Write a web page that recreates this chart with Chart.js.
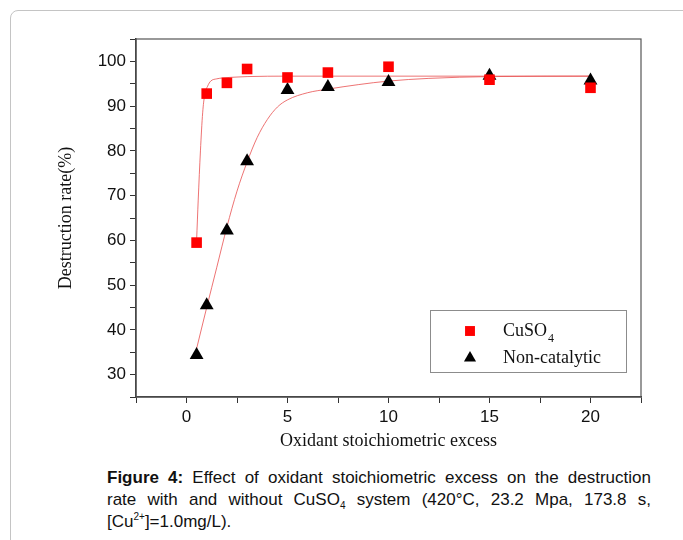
<!DOCTYPE html>
<html>
<head>
<meta charset="utf-8">
<script src="https://cdn.jsdelivr.net/npm/chart.js@4"></script>
<style>
  html, body { margin: 0; padding: 0; background: #fff; overflow: hidden; }
  body { width: 683px; height: 540px; position: relative; }
  .frame {
    position: absolute; left: 10px; top: 10px; width: 800px; height: 600px;
    border: 1px solid #c4c4c4; border-radius: 8px;
  }
  .plot { position: absolute; left: 0; top: 0; width: 683px; height: 460px; }
  .caption {
    position: absolute; left: 107px; top: 467px; width: 544px;
    font-family: 'Liberation Sans', Arial, sans-serif; font-size: 17px; line-height: 22px; color: #111;
  }
  .caption .j { text-align: justify; text-align-last: justify; }
  .caption sub, .caption sup { font-size: 10px; line-height: 0; }
  .caption sub { vertical-align: -4px; }
</style>
</head>
<body>
<div class="frame"></div>
<div class="plot"><canvas id="rateChart"></canvas></div>
<div class="caption">
  <div class="j"><b>Figure 4:</b> Effect of oxidant stoichiometric excess on the destruction</div>
  <div class="j">rate with and without CuSO<sub>4</sub> system (420°C, 23.2 Mpa, 173.8 s,</div>
  <div>[Cu<sup>2+</sup>]=1.0mg/L).</div>
</div>
<script>
// measured points
const excessValues = [0.5, 1, 2, 3, 5, 7, 10, 15, 20];
const cuso4Rate = [59.5, 92.8, 95.2, 98.3, 96.4, 97.5, 98.8, 95.9, 94.1];
const nonCatalyticRate = [34.4, 45.5, 62.2, 77.7, 93.6, 94.3, 95.4, 96.8, 95.7];

// fitted curves
const cuso4FitX = [0.5, 0.58, 0.69, 0.8, 0.9, 1.05, 1.2, 1.5, 1.8, 2.5, 3, 5, 10, 20];
const cuso4FitY = [60, 69, 80, 88.5, 92.5, 94.5, 95.6, 96.1, 96.3, 96.5, 96.6, 96.7, 96.7, 96.7];
const nonCatFitX = [0.5, 1, 1.5, 2, 2.5, 3, 3.5, 4, 4.5, 5, 6, 7, 8.5, 10, 12, 15, 20];
const nonCatFitY = [35.8, 45, 54, 63, 71, 77.5, 83, 87, 89.8, 91.4, 93, 93.8, 94.8, 95.6, 96.2, 96.6, 96.7];

const seriesNames = ['CuSO', 'Non-catalytic'];
const seriesSubscripts = ['4', ''];
const xTickLabels = [0, 5, 10, 15, 20];
const yTickLabels = [30, 40, 50, 60, 70, 80, 90, 100];

const toPoints = (xs, ys) => xs.map((x, i) => ({ x: x, y: ys[i] }));

const serif = "'Liberation Serif', 'Times New Roman', serif";
const sans = "'Liberation Sans', Arial, sans-serif";
const fitColor = 'rgba(232, 80, 80, 0.8)';

// box around the plot + the legend in the lower right
const framePlugin = {
    id: 'framePlugin',
    afterDatasetsDraw(chart) {
        const { ctx, chartArea: a } = chart;
        ctx.save();
        ctx.strokeStyle = '#555';
        ctx.lineWidth = 1.2;
        ctx.strokeRect(a.left, a.top, a.right - a.left, a.bottom - a.top);

        const bx = a.right - 211, by = a.bottom - 87, bw = 196, bh = 62;
        ctx.fillStyle = '#fff';
        ctx.fillRect(bx, by, bw, bh);
        ctx.strokeStyle = '#8c8c8c';
        ctx.lineWidth = 1;
        ctx.strokeRect(bx + 0.5, by + 0.5, bw, bh);

        const styles = ['rect', 'triangle'];
        const colors = ['#ff0000', '#000000'];
        seriesNames.forEach((name, i) => {
            const cy = by + 21 + i * 27;
            const opts = { pointStyle: styles[i], radius: 7, rotation: 0, borderWidth: 0 };
            ctx.fillStyle = colors[i];
            ctx.strokeStyle = colors[i];
            Chart.helpers.drawPoint(ctx, opts, bx + 40, cy);
            ctx.fillStyle = '#111';
            ctx.font = '18px ' + serif;
            ctx.textBaseline = 'middle';
            ctx.textAlign = 'left';
            ctx.fillText(name, bx + 73, cy);
            if (seriesSubscripts[i]) {
                const w = ctx.measureText(name).width;
                ctx.font = '12px ' + serif;
                ctx.fillText(seriesSubscripts[i], bx + 73 + w + 1, cy + 8);
            }
        });
        ctx.restore();
    }
};

const ctx = document.getElementById('rateChart').getContext('2d');
new Chart(ctx, {
    type: 'scatter',
    data: {
        datasets: [
            {
                label: 'CuSO4',
                data: toPoints(excessValues, cuso4Rate),
                pointStyle: 'rect',
                pointRadius: 7.5,
                backgroundColor: '#ff0000',
                borderColor: '#ff0000',
                borderWidth: 0
            },
            {
                label: 'Non-catalytic',
                data: toPoints(excessValues, nonCatalyticRate),
                pointStyle: 'triangle',
                pointRadius: 8,
                backgroundColor: '#000',
                borderColor: '#000',
                borderWidth: 0
            },
            {
                label: 'CuSO4 fit',
                data: toPoints(cuso4FitX, cuso4FitY),
                showLine: true,
                pointRadius: 0,
                borderColor: fitColor,
                borderWidth: 1,
                cubicInterpolationMode: 'monotone'
            },
            {
                label: 'Non-catalytic fit',
                data: toPoints(nonCatFitX, nonCatFitY),
                showLine: true,
                pointRadius: 0,
                borderColor: fitColor,
                borderWidth: 1,
                cubicInterpolationMode: 'monotone'
            }
        ]
    },
    options: {
        responsive: true,
        maintainAspectRatio: false,
        animation: false,
        layout: { padding: { left: 0, top: 39, right: 42, bottom: 0 } },
        plugins: {
            legend: { display: false },
            tooltip: { enabled: false }
        },
        scales: {
            x: {
                type: 'linear',
                min: -2.5,
                max: 22.5,
                afterFit: (scale) => { scale.height = 63; },
                ticks: {
                    stepSize: 2.5,
                    autoSkip: false,
                    maxRotation: 0,
                    padding: 4,
                    color: '#111',
                    font: { family: sans, size: 17 },
                    callback: (v) => xTickLabels.includes(v) ? String(v) : ''
                },
                grid: { drawOnChartArea: false, tickLength: 6, color: '#333' },
                border: { display: true, color: '#333', width: 1.5 },
                title: {
                    display: true,
                    text: 'Oxidant stoichiometric excess',
                    color: '#111',
                    font: { family: serif, size: 18 },
                    padding: { top: 0, bottom: 8 }
                }
            },
            y: {
                min: 25,
                max: 105,
                afterFit: (scale) => { scale.width = 136; },
                ticks: {
                    stepSize: 5,
                    autoSkip: false,
                    padding: 4,
                    color: '#111',
                    font: { family: sans, size: 17 },
                    callback: (v) => yTickLabels.includes(v) ? String(v) : ''
                },
                grid: { drawOnChartArea: false, tickLength: 6, color: '#333' },
                border: { display: true, color: '#333', width: 1.5 },
                title: {
                    display: true,
                    text: 'Destruction rate(%)',
                    color: '#111',
                    font: { family: serif, size: 18 },
                    padding: { top: 55, bottom: 0 }
                }
            }
        }
    },
    plugins: [framePlugin]
});
</script>
</body>
</html>
